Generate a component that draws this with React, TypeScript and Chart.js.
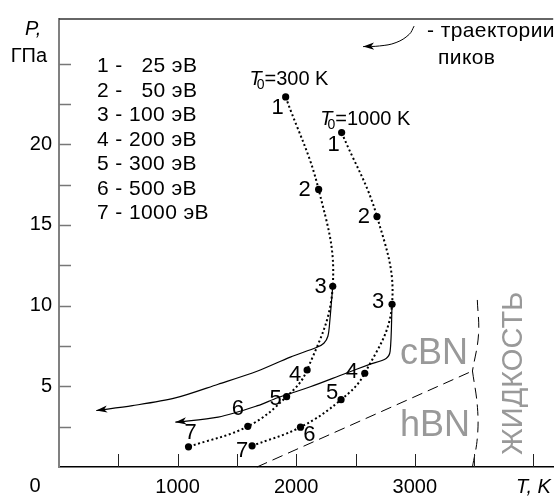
import React, { useEffect, useRef } from 'react';
import { Chart, registerables } from 'chart.js';

Chart.register(...registerables);

const FONT = 'Arial, "Liberation Sans", Helvetica, sans-serif';

// ---- axis ticks ----
const tempTickValues = [0, 500, 1000, 1500, 2000, 2500, 3000, 3500, 4000];
const tempTickLabels: Record<number, string> = { 1000: '1000', 2000: '2000', 3000: '3000', 4000: 'T, K' };
const pressureTickValues = [2.5, 5, 7.5, 10, 12.5, 15, 17.5, 20, 22.5, 25];
const pressureTickLabels: Record<number, string> = { 5: '5', 10: '10', 15: '15', 20: '20' };

// ---- legend of energies ----
const peakIndex = ['1', '2', '3', '4', '5', '6', '7'];
const peakEnergies = ['25', '50', '100', '200', '300', '500', '1000'];

// ---- peak positions, T0 = 300 K ----
const t300 = [1911, 2189, 2308, 2092, 1919, 1592, 1092];
const p300 = [22.93, 17.2, 11.2, 6.01, 4.36, 2.52, 1.25];

// ---- peak positions, T0 = 1000 K ----
const t1000 = [2383, 2681, 2808, 2578, 2378, 2036, 1628];
const p1000 = [20.72, 15.52, 10.08, 5.81, 4.17, 2.47, 1.31];

// ---- trajectories (solid, with arrows) ----
const traj300T = [2308, 2283, 2267, 2233, 2175, 1950, 1675, 1342, 981, 619, 314];
const traj300P = [11.2, 9.02, 8.1, 7.67, 7.42, 6.81, 5.95, 5.13, 4.28, 3.8, 3.5];
const traj1000T = [2808, 2792, 2758, 2619, 2398, 2119, 1842, 1675, 1342, 981];
const traj1000P = [10.06, 7.18, 6.73, 6.36, 5.75, 4.97, 4.29, 3.8, 3.09, 2.78];

// ---- phase boundaries (dashed) ----
const cbnHbnT = [1669, 3486];
const cbnHbnP = [0, 5.95];
const meltUpperT = [3527, 3537, 3486];
const meltUpperP = [10.35, 8.2, 5.95];
const meltLowerT = [3486, 3528, 3527, 3486];
const meltLowerP = [5.95, 3.7, 1.8, 0];

// ---- key arrow (top right) ----
const keyArrowT = [2994, 2953, 2842, 2703, 2564];
const keyArrowP = [27.32, 26.81, 26.3, 26.09, 26.05];

// label offsets (px) of the peak numbers relative to their points
const labelOffsets300 = [[-8, 10], [-14, 0], [-12, 0], [-12, 4], [-11, 1], [-10, -18], [2, -15]];
const labelOffsets1000 = [[-8, 11], [-13, -1], [-14, -3], [-13, -2], [-9, -8], [9, 7], [-10, 4]];

const pts = (xs: number[], ys: number[]) => xs.map((x, i) => ({ x, y: ys[i] }));

function drawArrowHead(ctx: CanvasRenderingContext2D, x: number, y: number, ang: number) {
  const len = 11, half = 3.6, notch = 3;
  const c = Math.cos(ang), s = Math.sin(ang);
  const bx = x - c * len, by = y - s * len;
  ctx.beginPath();
  ctx.moveTo(x, y);
  ctx.lineTo(bx - s * half, by + c * half);
  ctx.lineTo(x - c * (len - notch), y - s * (len - notch));
  ctx.lineTo(bx + s * half, by - c * half);
  ctx.closePath();
  ctx.fillStyle = '#000';
  ctx.fill();
}

const decorPlugin = {
  id: 'decor',
  afterDatasetsDraw(chart: any) {
    const { ctx, chartArea, scales } = chart;
    const xs = scales.x, ys = scales.y;
    ctx.save();

    // top border
    ctx.strokeStyle = '#333';
    ctx.lineWidth = 1.5;
    ctx.beginPath();
    ctx.moveTo(chartArea.left, chartArea.top);
    ctx.lineTo(chartArea.right, chartArea.top);
    ctx.stroke();

    // inward tick marks
    ctx.strokeStyle = '#777';
    ctx.lineWidth = 1.5;
    for (const v of pressureTickValues) {
      const py = Math.round(ys.getPixelForValue(v)) + 0.5;
      ctx.beginPath();
      ctx.moveTo(chartArea.left, py);
      ctx.lineTo(chartArea.left + 12, py);
      ctx.stroke();
    }
    ctx.strokeStyle = '#222';
    ctx.lineWidth = 1;
    for (const v of tempTickValues) {
      if (v === 0) continue;
      const px = Math.round(xs.getPixelForValue(v)) + 0.5;
      ctx.beginPath();
      ctx.moveTo(px, chartArea.bottom);
      ctx.lineTo(px, chartArea.bottom - 13);
      ctx.stroke();
    }

    // arrowheads
    chart.data.datasets.forEach((ds: any, i: number) => {
      if (!ds.arrow) return;
      const meta = chart.getDatasetMeta(i);
      const el = meta.data;
      const last = el[el.length - 1];
      const prev = el[el.length - 2];
      let fx = last.cp1x, fy = last.cp1y;
      if (fx === undefined || Math.hypot(last.x - fx, last.y - fy) < 1) { fx = prev.x; fy = prev.y; }
      drawArrowHead(ctx, last.x, last.y, Math.atan2(last.y - fy, last.x - fx));
    });

    ctx.fillStyle = '#000';
    // axis titles
    ctx.textBaseline = 'alphabetic';
    ctx.textAlign = 'left';
    ctx.font = `italic 20px ${FONT}`;
    ctx.fillText('P,', 25, 35);
    ctx.textAlign = 'right';
    ctx.font = `20px ${FONT}`;
    ctx.fillText('ГПа', 47, 62);
    ctx.textAlign = 'center';
    ctx.textBaseline = 'middle';
    ctx.fillText('0', 35, 486);

    // energy legend
    ctx.textAlign = 'left';
    ctx.textBaseline = 'alphabetic';
    ctx.font = `21px ${FONT}`;
    (ctx as any).letterSpacing = '0.4px';
    peakIndex.forEach((idx, i) => {
      const e = peakEnergies[i];
      const pad = '  '.repeat(Math.max(0, 3 - e.length));
      ctx.fillText(`${idx} - ${pad}${e} эВ`, 97, 72 + i * 24.5);
    });

    // key text
    ctx.font = `21px ${FONT}`;
    ctx.fillText('- траектории', 427, 37);
    ctx.fillText('пиков', 438, 64);
    (ctx as any).letterSpacing = '0px';

    // T0 labels
    const drawT0 = (t: number, p: number, rest: string) => {
      const px = xs.getPixelForValue(t), py = ys.getPixelForValue(p);
      ctx.font = `italic 20px ${FONT}`;
      ctx.fillText('T', px, py);
      const wT = ctx.measureText('T').width;
      ctx.font = `14px ${FONT}`;
      ctx.fillText('0', px + wT - 5, py + 4);
      const w0 = ctx.measureText('0').width;
      ctx.font = `20px ${FONT}`;
      ctx.fillText(rest, px + wT - 5 + w0, py);
    };
    drawT0(1606, 23.65, '=300 K');
    drawT0(2203, 21.19, '=1000 K');

    // peak numbers
    ctx.font = `22px ${FONT}`;
    ctx.textAlign = 'center';
    ctx.textBaseline = 'middle';
    const numberLabels = (ts: number[], ps: number[], offs: number[][]) => {
      ts.forEach((t, i) => {
        const px = xs.getPixelForValue(t) + offs[i][0];
        const py = ys.getPixelForValue(ps[i]) + offs[i][1];
        ctx.fillText(peakIndex[i], px, py + 1);
      });
    };
    numberLabels(t300, p300, labelOffsets300);
    numberLabels(t1000, p1000, labelOffsets1000);

    // phase names
    ctx.fillStyle = '#999';
    ctx.textAlign = 'left';
    ctx.textBaseline = 'alphabetic';
    ctx.font = `36px ${FONT}`;
    ctx.fillText('cBN', xs.getPixelForValue(2875), ys.getPixelForValue(6.39));
    ctx.fillText('hBN', xs.getPixelForValue(2875), ys.getPixelForValue(1.9));
    ctx.save();
    ctx.translate(xs.getPixelForValue(3905), ys.getPixelForValue(5.8));
    ctx.rotate(-Math.PI / 2);
    ctx.textAlign = 'center';
    ctx.font = `29px ${FONT}`;
    ctx.fillText('ЖИДКОСТЬ', 0, 0);
    ctx.restore();

    ctx.restore();
  },
};

export default function App() {
  const ref = useRef<HTMLCanvasElement | null>(null);

  useEffect(() => {
    if (!ref.current) return;
    const dashedPhase = {
      showLine: true, borderColor: '#000', borderWidth: 1, borderDash: [11, 6],
      pointRadius: 0, tension: 0, clip: false,
    };
    const solidTraj = {
      showLine: true, borderColor: '#000', borderWidth: 1.2, pointRadius: 0,
      tension: 0.3, clip: false, arrow: true,
    };
    const dotted = {
      showLine: true, borderColor: '#000', borderWidth: 2, borderDash: [2, 2.6],
      pointRadius: 3.6, pointBackgroundColor: '#000', pointBorderWidth: 0,
      tension: 0.4, clip: false,
    };
    const chart = new Chart(ref.current, {
      type: 'scatter',
      data: {
        datasets: [
          { ...dashedPhase, data: pts(cbnHbnT, cbnHbnP) },
          { ...dashedPhase, tension: 0.4, data: pts(meltUpperT, meltUpperP) },
          { ...dashedPhase, tension: 0.4, data: pts(meltLowerT, meltLowerP) },
          { ...solidTraj, data: pts(traj300T, traj300P) },
          { ...solidTraj, data: pts(traj1000T, traj1000P) },
          { ...dotted, data: pts(t300, p300) },
          { ...dotted, data: pts(t1000, p1000) },
          { ...solidTraj, borderWidth: 1, tension: 0.4, data: pts(keyArrowT, keyArrowP) },
        ] as any,
      },
      options: {
        animation: false,
        responsive: false,
        devicePixelRatio: 1,
        layout: { padding: { top: 15, right: 0, left: 0, bottom: 0 } },
        plugins: { legend: { display: false }, tooltip: { enabled: false } },
        scales: {
          x: {
            type: 'linear',
            min: 0,
            max: 4166.7,
            afterBuildTicks: (s: any) => { s.ticks = tempTickValues.map((v) => ({ value: v })); },
            afterFit: (s: any) => { s.height = 32; },
            grid: { display: false, drawTicks: false },
            border: { display: true, color: '#000', width: 1.5 },
            ticks: {
              padding: 8,
              color: '#000',
              maxRotation: 0,
              autoSkip: false,
              font: (c: any) => ({ family: FONT, size: 20, style: c.tick && c.tick.value === 4000 ? 'italic' : 'normal' }),
              callback: (v: any) => tempTickLabels[v as number] ?? '',
            },
          },
          y: {
            type: 'linear',
            min: 0,
            max: 27.76,
            afterBuildTicks: (s: any) => { s.ticks = pressureTickValues.map((v) => ({ value: v })); },
            afterFit: (s: any) => { s.width = 59; },
            grid: { display: false, drawTicks: false },
            border: { display: true, color: '#808080', width: 2 },
            ticks: {
              padding: 7,
              color: '#000',
              autoSkip: false,
              font: { family: FONT, size: 20 },
              callback: (v: any) => pressureTickLabels[v as number] ?? '',
            },
          },
        },
      } as any,
      plugins: [decorPlugin],
    });
    return () => chart.destroy();
  }, []);

  return (
    <div style={{ position: 'fixed', left: 0, top: 0, width: 559, height: 499, background: '#fff' }}>
      <canvas ref={ref} width={559} height={499} style={{ display: 'block', width: 559, height: 499 }} />
    </div>
  );
}
